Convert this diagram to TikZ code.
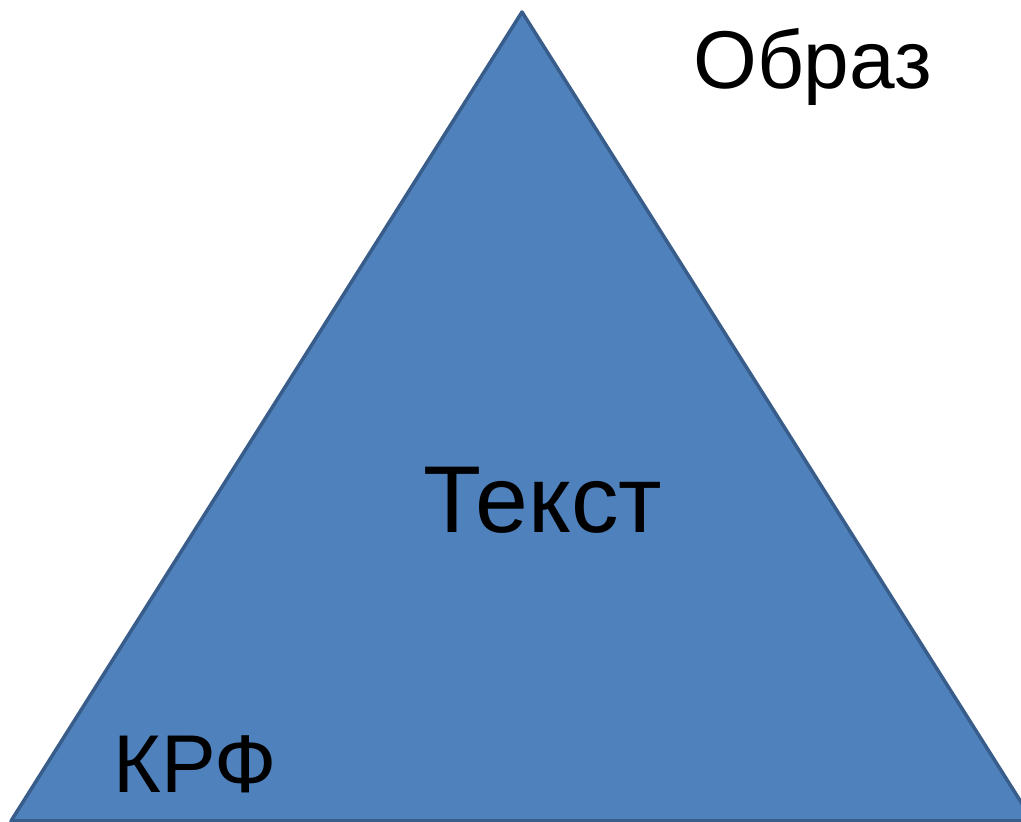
\documentclass[tikz,border=0pt]{standalone}
\usepackage{fontspec}
\setmainfont{Liberation Sans}
\definecolor{trifill}{HTML}{4F81BD}
\definecolor{triline}{HTML}{385D8A}
\begin{document}
\begin{tikzpicture}[x=1pt,y=1pt,
  lbl/.style={anchor=base west,inner sep=0pt,font=\fontsize{82}{82}\selectfont,text=black}]
\useasboundingbox (0,0) rectangle (1021,822);
\begin{scope}
\clip (0,0) rectangle (1021,822);
\draw[fill=trifill,draw=triline,line width=3.5pt,line join=round] (522,810) -- (1033,1) -- (11,1) -- cycle;
\end{scope}
\node[lbl] (obraz) at (693,733) {Образ};
\node[lbl,font=\fontsize{95}{95}\selectfont] (tekst) at (423,289) {Текст};
\node[lbl] (krf) at (113,29) {КРФ};
\end{tikzpicture}
\end{document}
